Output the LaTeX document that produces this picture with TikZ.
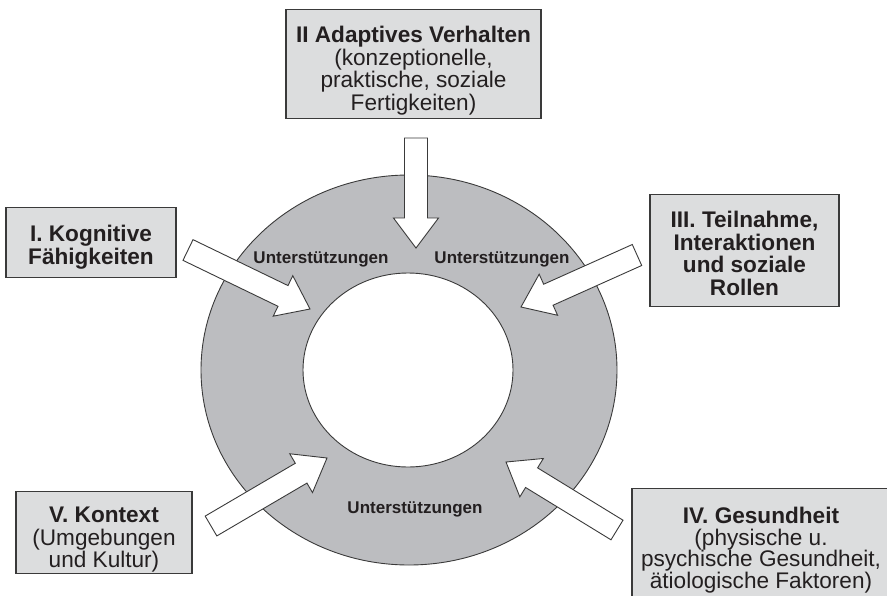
\documentclass[tikz,border=0pt]{standalone}
\usepackage{fontspec}
\setmainfont{Liberation Sans}
\usetikzlibrary{calc, shapes.geometric}

\definecolor{kastengrau}{HTML}{DCDDDE}
\definecolor{ringgrau}{HTML}{BCBDC0}
\definecolor{linie}{HTML}{3A3A3A}
\definecolor{schrift}{HTML}{231F20}

% Abstand ueber der ersten und unter der letzten Zeile
\newcommand{\oben}[1]{\rule{0pt}{#1pt}}
\newcommand{\unten}[1]{\rule[-#1pt]{0pt}{#1pt}}

% Blockpfeil von #1 nach #2
\newcommand{\pfeil}[2]{%
	\path ($(#2)-(#1)$);
	\pgfgetlastxy{\pfx}{\pfy}%
	\pgfmathsetmacro{\pfwinkel}{atan2(\pfy,\pfx)}%
	\pgfmathsetmacro{\pflaenge}{veclen(\pfx,\pfy)}%
	\pgfmathsetmacro{\pfbasis}{\pflaenge-\pfkopf}%
	\begin{scope}[shift={(#1)}, rotate=\pfwinkel]
		\draw[pfeilform] (0pt,-\pfschaft) -- (\pfbasis pt,-\pfschaft) -- (\pfbasis pt,-\pfbreite)
			-- (\pflaenge pt,0pt) -- (\pfbasis pt,\pfbreite) -- (\pfbasis pt,\pfschaft) -- (0pt,\pfschaft) -- cycle;
	\end{scope}}

\begin{document}
\begin{tikzpicture}[x=1pt, y=-1pt,
		kasten/.style={draw=linie, fill=kastengrau, line width=1.3pt, inner sep=0pt, anchor=north,
			align=center, text=schrift, font=\fontsize{22.6}{22.5}\selectfont},
		fett/.style={kasten, font=\fontsize{22.6}{22.5}\selectfont\bfseries},
		unterst/.style={inner sep=0pt, anchor=base, text=schrift, font=\fontsize{17}{20}\selectfont\bfseries},
		pfeilform/.style={draw=linie, fill=white, line width=0.9pt, line join=miter}]
	\def\pfschaft{11.5pt}
	\def\pfbreite{22.5pt}
	\def\pfkopf{30}

	\path[use as bounding box, clip] (0,0) rectangle (887,595);

	% Ring
	\node[ellipse, draw=linie, fill=ringgrau, line width=0.9pt, inner sep=0pt,
		minimum width=416pt, minimum height=390pt] (ring) at (409,370) {};
	\node[ellipse, draw=linie, fill=white, line width=0.9pt, inner sep=0pt,
		minimum width=210pt, minimum height=194pt] (mitte) at (408,370) {};

	\node[unterst] (ul) at (321,263) {Unterstützungen};
	\node[unterst] (ur) at (502,263) {Unterstützungen};
	\node[unterst] (uu) at (415,513) {Unterstützungen};

	% Kaesten
	\node[fett, minimum width=170pt] (kognitiv) at (91,207)
		{\oben{34}I. Kognitive\\Fähigkeiten\unten{13.5}};
	\node[kasten, minimum width=255pt] (adaptiv) at (413.5,9)
		{\oben{33}\textbf{II Adaptives Verhalten}\\(konzeptionelle,\\praktische, soziale\\Fertigkeiten)\unten{8.5}};
	\node[fett, minimum width=189pt] (teilnahme) at (744.5,194)
		{\oben{33}III. Teilnahme,\\Interaktionen\\und soziale\\Rollen\unten{11.5}};
	\node[kasten, minimum width=258pt, font=\fontsize{22.6}{21.5}\selectfont] (gesundheit) at (761,488)
		{\oben{35}\textbf{IV. Gesundheit}\\(physische u.\\psychische Gesundheit,\\ätiologische Faktoren)\unten{14}};
	\node[kasten, minimum width=176pt] (kontext) at (104,491)
		{\oben{31}\textbf{V. Kontext}\\(Umgebungen\\und Kultur)\unten{6}};

	% Pfeile
	\coordinate (aII) at (416,138);  \coordinate (eII) at (416,248);
	\coordinate (aI) at (188,250);   \coordinate (eI) at (310,309);
	\coordinate (aIII) at (637,255); \coordinate (eIII) at (521,307);
	\coordinate (aV) at (211,526);   \coordinate (eV) at (327,458);
	\coordinate (aIV) at (617,530);  \coordinate (eIV) at (506,462);

	\pfeil{aII}{eII}
	\pfeil{aI}{eI}
	\pfeil{aIII}{eIII}
	\pfeil{aV}{eV}
	\pfeil{aIV}{eIV}
\end{tikzpicture}
\end{document}
